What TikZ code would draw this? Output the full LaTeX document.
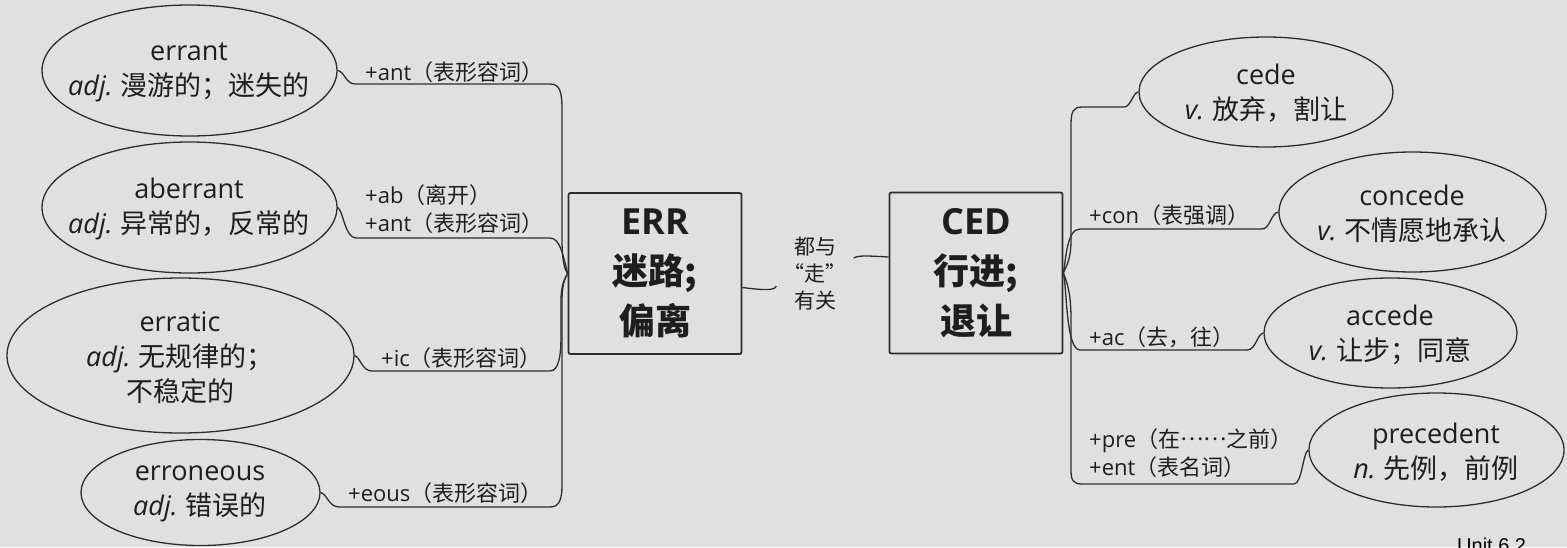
\documentclass[tikz,border=0pt]{standalone}
\usepackage{fontspec}
\setmainfont{Noto Sans CJK SC}
\newfontfamily\en{Open Sans}
\newfontfamily\unitfont{Liberation Sans}
\usetikzlibrary{shapes.geometric}
\definecolor{bg}{RGB}{224,224,224}
\definecolor{lc}{RGB}{45,45,45}
\definecolor{tc}{RGB}{30,30,30}
\tikzset{
  bub/.style={ellipse, draw=lc, line width=1.3pt, inner sep=0pt},
  btxt/.style={align=center, font=\fontsize{27}{35}\selectfont, text=tc, inner sep=0pt},
  lbl/.style={anchor=west, align=left, font=\fontsize{22}{28}\selectfont, text=tc, inner sep=0pt},
  rootbox/.style={draw=lc, line width=1.8pt, rounded corners=2pt, minimum width=173pt, minimum height=161pt, align=center, font=\fontsize{36}{50}\selectfont\bfseries, text=tc},
  linktxt/.style={align=center, font=\fontsize{21}{27}\selectfont, text=tc, inner ysep=0pt, inner xsep=7pt},
  conn/.style={draw=lc, line width=1.3pt},
}
\begin{document}
\begin{tikzpicture}[x=1pt,y=-1pt]
\useasboundingbox (0,0) rectangle (1567,547);
\clip (0,0) rectangle (1567,547);
\fill[bg] (0,0) rectangle (1567,547);

% root boxes
\node[rootbox] (err) at (655,273.5) {{\en ERR}\\迷路;\\偏离};
\node[rootbox] (ced) at (976,273) {{\en CED}\\行进;\\退让};
\node[linktxt] (link) at (815,274) {都与\\“走”\\有关};

% left ellipses
\node[bub, minimum width=295pt, minimum height=131pt] (errant) at (189.5,70.5) {};
\node[btxt] (errantT) at (189,72) {{\en errant}\\{\en\itshape adj.} 漫游的；迷失的};
\node[bub, minimum width=295pt, minimum height=131pt] (aberrant) at (189.5,207.5) {};
\node[btxt] (aberrantT) at (189,209) {{\en aberrant}\\{\en\itshape adj.} 异常的，反常的};
\node[bub, minimum width=347pt, minimum height=155pt] (erratic) at (180.5,355.5) {};
\node[btxt] (erraticT) at (180,358) {{\en erratic}\\{\en\itshape adj.} 无规律的；\\不稳定的};
\node[bub, minimum width=239pt, minimum height=106pt] (erroneous) at (200.5,492.5) {};
\node[btxt] (erroneousT) at (200,494) {{\en erroneous}\\{\en\itshape adj.} 错误的};

% right ellipses
\node[bub, minimum width=254pt, minimum height=110pt] (cede) at (1266,92) {};
\node[btxt] (cedeT) at (1266,93) {{\en cede}\\{\en\itshape v.} 放弃，割让};
\node[bub, minimum width=267pt, minimum height=120pt] (concede) at (1412.5,212) {};
\node[btxt] (concedeT) at (1412,214) {{\en concede}\\{\en\itshape v.} 不情愿地承认};
\node[bub, minimum width=253pt, minimum height=110pt] (accede) at (1390.5,333) {};
\node[btxt] (accedeT) at (1390,335) {{\en accede}\\{\en\itshape v.} 让步；同意};
\node[bub, minimum width=255pt, minimum height=114pt] (precedent) at (1436.5,450) {};
\node[btxt] (precedentT) at (1436,452) {{\en precedent}\\{\en\itshape n.} 先例，前例};

% labels
\node[lbl] (l1) at (365,72) {{\en +ant}（表形容词）};
\node[lbl] (l2) at (365,209) {{\en +ab}（离开）\\{\en +ant}（表形容词）};
\node[lbl] (l3) at (381,358) {{\en +ic}（表形容词）};
\node[lbl] (l4) at (348,493) {{\en +eous}（表形容词）};
\node[lbl] (r2) at (1089,215) {{\en +con}（表强调）};
\node[lbl] (r3) at (1089,337) {{\en +ac}（去，往）};
\node[lbl] (r4) at (1089,453) {{\en +pre}（在\raisebox{0.3em}{……}之前）\\{\en +ent}（表名词）};

% left connectors
\draw[conn] (errant.east) .. controls (344,71) and (346,84) .. (355,84) -- (550,84)
  .. controls (560,84) and (562,92) .. (562,110) -- (562,240) .. controls (562,262) and (565,270) .. (err.west);
\draw[conn] (aberrant.east) .. controls (343,210) and (345,238) .. (356,238) -- (550,238)
  .. controls (560,238) and (563,255) .. (err.west);
\draw[conn] (erratic.east) .. controls (360,357) and (362,371) .. (372,371) -- (550,371)
  .. controls (559,371) and (561,355) .. (561,335) -- (561,300) .. controls (561,285) and (565,278) .. (err.west);
\draw[conn] (erroneous.east) .. controls (327,494) and (329,507) .. (339,507) -- (550,507)
  .. controls (559,507) and (562,500) .. (562,485) -- (562,300) .. controls (562,285) and (565,278) .. (err.west);

% link connectors
\draw[conn] ([yshift=-14pt]err.east) .. controls (762,290) and (775,291) .. ([yshift=-12pt]link.west);
\draw[conn] ([yshift=16pt]link.east) .. controls (858,255) and (870,256) .. ([yshift=16pt]ced.west);

% right connectors
\draw[conn] (ced.east) .. controls (1067,265) and (1071,258) .. (1071,240) -- (1071,125)
  .. controls (1071,112) and (1073,107) .. (1082,107) -- (1124,107) .. controls (1131,107) and (1133,92) .. (cede.west);
\draw[conn] (ced.east) .. controls (1066,258) and (1067,229) .. (1080,229) -- (1262,229)
  .. controls (1270,229) and (1271,213) .. (concede.west);
\draw[conn] (ced.east) .. controls (1067,290) and (1066,350) .. (1080,350) -- (1247,350)
  .. controls (1256,350) and (1257,334) .. (accede.west);
\draw[conn] (ced.east) .. controls (1068,285) and (1071,295) .. (1071,320) -- (1071,470)
  .. controls (1071,480) and (1073,484) .. (1082,484) -- (1294,484) .. controls (1302,484) and (1303,452) .. (precedent.west);

\node[anchor=base west, inner sep=0pt, font=\unitfont\fontsize{20}{24}\selectfont, text=black] (unit) at (1457,552) {Unit 6.2};
\end{tikzpicture}
\end{document}
